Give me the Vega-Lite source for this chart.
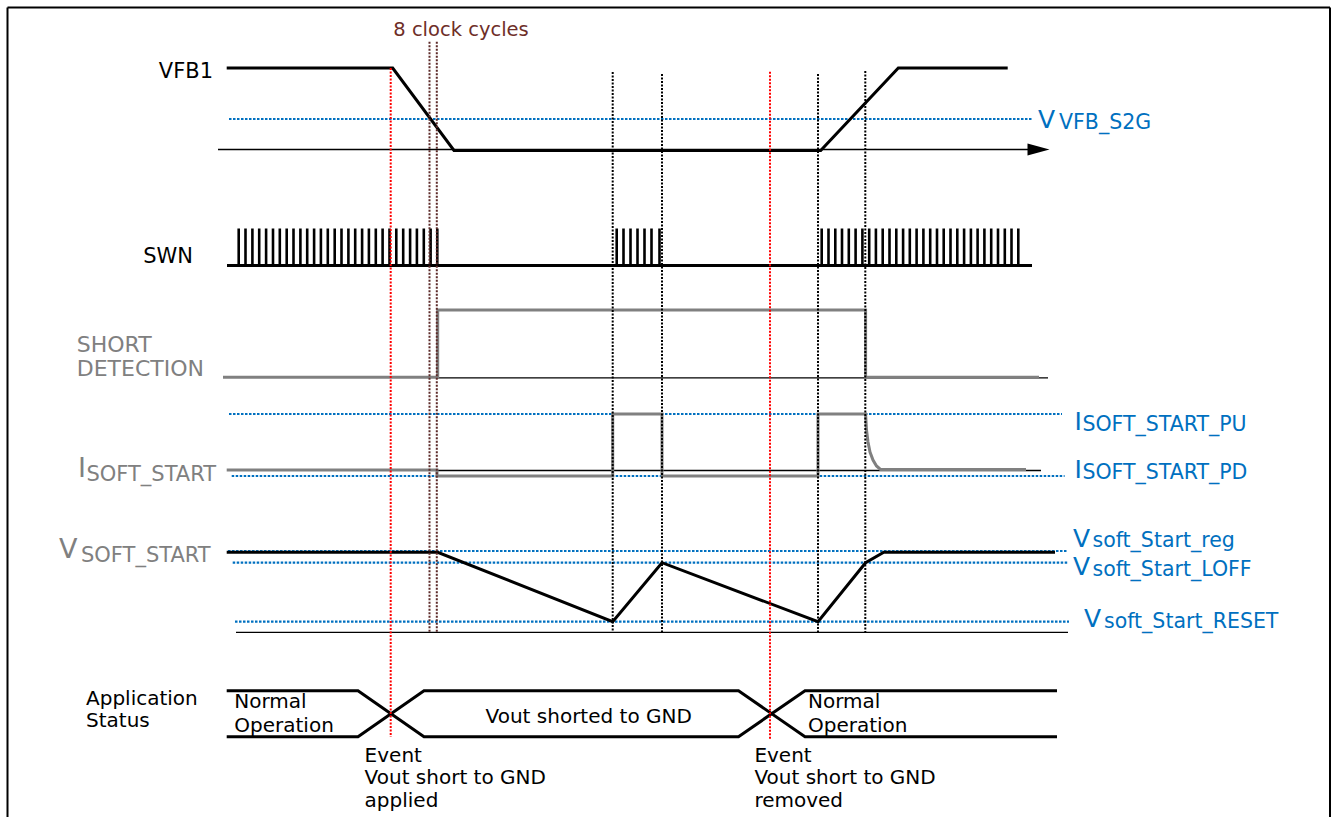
{
  "$schema": "https://vega.github.io/schema/vega-lite/v6.json",
  "width": 1332,
  "height": 818,
  "autosize": {"type": "fit", "contains": "padding"},
  "padding": 0,
  "background": "white",
  "config": {"view": {"stroke": null}},
  "datasets": {
    "frame": [
      {"x": 7.5, "y": 7.5, "y2": 817},
      {"x": 1330, "y": 7.5, "y2": 817}
    ],
    "frameTop": [
      {"x": 7.5, "x2": 1330, "y": 7.5}
    ],
    "thin": [
      {"x": 218, "x2": 1030, "y": 149.5},
      {"x": 437, "x2": 1048, "y": 377.8},
      {"x": 437, "x2": 1041, "y": 470.5},
      {"x": 236, "x2": 1068, "y": 632.3}
    ],
    "blueDot": [
      {"x": 229, "x2": 1031.7, "y": 119},
      {"x": 229, "x2": 1062, "y": 414},
      {"x": 231.7, "x2": 1064.6, "y": 476},
      {"x": 228, "x2": 1068, "y": 551},
      {"x": 232.7, "x2": 1068, "y": 562.7},
      {"x": 235, "x2": 1069, "y": 621.7}
    ],
    "pulses": [
      {"x": 238.7, "y": 265.5, "y2": 228.5}, {"x": 245.5, "y": 265.5, "y2": 228.5}, {"x": 252.4, "y": 265.5, "y2": 228.5}, {"x": 259.2, "y": 265.5, "y2": 228.5}, {"x": 266.1, "y": 265.5, "y2": 228.5},
      {"x": 273.0, "y": 265.5, "y2": 228.5}, {"x": 279.8, "y": 265.5, "y2": 228.5}, {"x": 286.7, "y": 265.5, "y2": 228.5}, {"x": 293.5, "y": 265.5, "y2": 228.5}, {"x": 300.4, "y": 265.5, "y2": 228.5},
      {"x": 307.2, "y": 265.5, "y2": 228.5}, {"x": 314.1, "y": 265.5, "y2": 228.5}, {"x": 320.9, "y": 265.5, "y2": 228.5}, {"x": 327.8, "y": 265.5, "y2": 228.5}, {"x": 334.7, "y": 265.5, "y2": 228.5},
      {"x": 341.5, "y": 265.5, "y2": 228.5}, {"x": 348.4, "y": 265.5, "y2": 228.5}, {"x": 355.2, "y": 265.5, "y2": 228.5}, {"x": 362.1, "y": 265.5, "y2": 228.5}, {"x": 368.9, "y": 265.5, "y2": 228.5},
      {"x": 375.8, "y": 265.5, "y2": 228.5}, {"x": 382.6, "y": 265.5, "y2": 228.5}, {"x": 389.5, "y": 265.5, "y2": 228.5}, {"x": 396.3, "y": 265.5, "y2": 228.5}, {"x": 403.2, "y": 265.5, "y2": 228.5},
      {"x": 410.1, "y": 265.5, "y2": 228.5}, {"x": 416.9, "y": 265.5, "y2": 228.5}, {"x": 423.8, "y": 265.5, "y2": 228.5}, {"x": 430.6, "y": 265.5, "y2": 228.5}, {"x": 437.3, "y": 265.5, "y2": 228.5},
      {"x": 616.7, "y": 265.5, "y2": 228.5}, {"x": 623.5, "y": 265.5, "y2": 228.5}, {"x": 630.5, "y": 265.5, "y2": 228.5}, {"x": 637.5, "y": 265.5, "y2": 228.5}, {"x": 644.5, "y": 265.5, "y2": 228.5},
      {"x": 651.5, "y": 265.5, "y2": 228.5}, {"x": 659.5, "y": 265.5, "y2": 228.5},
      {"x": 821.7, "y": 265.5, "y2": 228.5}, {"x": 828.5, "y": 265.5, "y2": 228.5}, {"x": 835.3, "y": 265.5, "y2": 228.5}, {"x": 842.0, "y": 265.5, "y2": 228.5}, {"x": 848.8, "y": 265.5, "y2": 228.5},
      {"x": 855.6, "y": 265.5, "y2": 228.5}, {"x": 862.4, "y": 265.5, "y2": 228.5}, {"x": 869.2, "y": 265.5, "y2": 228.5}, {"x": 875.9, "y": 265.5, "y2": 228.5}, {"x": 882.7, "y": 265.5, "y2": 228.5},
      {"x": 889.5, "y": 265.5, "y2": 228.5}, {"x": 896.3, "y": 265.5, "y2": 228.5}, {"x": 903.1, "y": 265.5, "y2": 228.5}, {"x": 909.8, "y": 265.5, "y2": 228.5}, {"x": 916.6, "y": 265.5, "y2": 228.5},
      {"x": 923.4, "y": 265.5, "y2": 228.5}, {"x": 930.2, "y": 265.5, "y2": 228.5}, {"x": 937.0, "y": 265.5, "y2": 228.5}, {"x": 943.7, "y": 265.5, "y2": 228.5}, {"x": 950.5, "y": 265.5, "y2": 228.5},
      {"x": 957.3, "y": 265.5, "y2": 228.5}, {"x": 964.1, "y": 265.5, "y2": 228.5}, {"x": 970.9, "y": 265.5, "y2": 228.5}, {"x": 977.6, "y": 265.5, "y2": 228.5}, {"x": 984.4, "y": 265.5, "y2": 228.5},
      {"x": 991.2, "y": 265.5, "y2": 228.5}, {"x": 998.0, "y": 265.5, "y2": 228.5}, {"x": 1004.8, "y": 265.5, "y2": 228.5}, {"x": 1011.5, "y": 265.5, "y2": 228.5}, {"x": 1018.3, "y": 265.5, "y2": 228.5}
    ],
    "black": [
      {"id": "vfb1", "i": 1, "x": 226.7, "y": 68},
      {"id": "vfb1", "i": 2, "x": 392.7, "y": 68},
      {"id": "vfb1", "i": 3, "x": 454, "y": 150.5},
      {"id": "vfb1", "i": 4, "x": 820.7, "y": 150.5},
      {"id": "vfb1", "i": 5, "x": 898.3, "y": 68},
      {"id": "vfb1", "i": 6, "x": 1007.7, "y": 68},
      {"id": "swn", "i": 1, "x": 227, "y": 265.5},
      {"id": "swn", "i": 2, "x": 1032, "y": 265.5},
      {"id": "vss", "i": 1, "x": 226.7, "y": 552.3},
      {"id": "vss", "i": 2, "x": 437.7, "y": 552.3},
      {"id": "vss", "i": 3, "x": 612.7, "y": 621.7},
      {"id": "vss", "i": 4, "x": 662, "y": 562.7},
      {"id": "vss", "i": 5, "x": 818, "y": 621.7},
      {"id": "vss", "i": 6, "x": 865.6, "y": 562.7},
      {"id": "vss", "i": 7, "x": 883.8, "y": 552.3},
      {"id": "vss", "i": 8, "x": 1055, "y": 552.3},
      {"id": "statA", "i": 1, "x": 226.7, "y": 690.7},
      {"id": "statA", "i": 2, "x": 358, "y": 690.7},
      {"id": "statA", "i": 3, "x": 424, "y": 736.7},
      {"id": "statA", "i": 4, "x": 738.5, "y": 736.7},
      {"id": "statA", "i": 5, "x": 805, "y": 690.7},
      {"id": "statA", "i": 6, "x": 1057, "y": 690.7},
      {"id": "statB", "i": 1, "x": 226.7, "y": 736.7},
      {"id": "statB", "i": 2, "x": 358, "y": 736.7},
      {"id": "statB", "i": 3, "x": 424, "y": 690.7},
      {"id": "statB", "i": 4, "x": 738.5, "y": 690.7},
      {"id": "statB", "i": 5, "x": 805, "y": 736.7},
      {"id": "statB", "i": 6, "x": 1057, "y": 736.7}
    ],
    "gray": [
      {"id": "sd", "i": 1, "x": 223, "y": 377.3},
      {"id": "sd", "i": 2, "x": 437.7, "y": 377.3},
      {"id": "sd", "i": 3, "x": 437.7, "y": 310},
      {"id": "sd", "i": 4, "x": 865.6, "y": 310},
      {"id": "sd", "i": 5, "x": 865.6, "y": 377.3},
      {"id": "sd", "i": 6, "x": 1039, "y": 377.3},
      {"id": "iss", "i": 1, "x": 226.7, "y": 470},
      {"id": "iss", "i": 2, "x": 437, "y": 470},
      {"id": "iss", "i": 3, "x": 437, "y": 476},
      {"id": "iss", "i": 4, "x": 612.7, "y": 476},
      {"id": "iss", "i": 5, "x": 612.7, "y": 414},
      {"id": "iss", "i": 6, "x": 662, "y": 414},
      {"id": "iss", "i": 7, "x": 662, "y": 476},
      {"id": "iss", "i": 8, "x": 818, "y": 476},
      {"id": "iss", "i": 9, "x": 818, "y": 414},
      {"id": "iss", "i": 10, "x": 865.6, "y": 414},
      {"id": "iss", "i": 11, "x": 866.5, "y": 430},
      {"id": "iss", "i": 12, "x": 868, "y": 442},
      {"id": "iss", "i": 13, "x": 870, "y": 452},
      {"id": "iss", "i": 14, "x": 873, "y": 460},
      {"id": "iss", "i": 15, "x": 876.5, "y": 466},
      {"id": "iss", "i": 16, "x": 880.5, "y": 469.5},
      {"id": "iss", "i": 17, "x": 1026, "y": 469.5}
    ],
    "redV": [
      {"x": 390.7, "y": 68, "y2": 737},
      {"x": 770, "y": 71.7, "y2": 739}
    ],
    "blackV": [
      {"x": 612.7, "y": 72, "y2": 633},
      {"x": 662, "y": 74, "y2": 633},
      {"x": 818, "y": 74, "y2": 633},
      {"x": 865.3, "y": 71, "y2": 633}
    ],
    "brownV": [
      {"x": 429.5, "y": 41.7, "y2": 633},
      {"x": 436.8, "y": 41.7, "y2": 633}
    ],
    "arrow": [
      {"x": 1038.5, "y": 149.5}
    ],
    "txtRight": [
      {"x": 213, "y": 78, "text": "VFB1"},
      {"x": 193, "y": 263, "text": "SWN"}
    ],
    "txtLeft": [
      {"x": 86, "y": 705, "text": "Application"},
      {"x": 86, "y": 727.3, "text": "Status"},
      {"x": 234.3, "y": 708.3, "text": "Normal"},
      {"x": 234.3, "y": 731.7, "text": "Operation"},
      {"x": 808, "y": 708.3, "text": "Normal"},
      {"x": 808, "y": 731.7, "text": "Operation"},
      {"x": 364.6, "y": 761.7, "text": "Event"},
      {"x": 364.6, "y": 784, "text": "Vout short to GND"},
      {"x": 364.6, "y": 806.5, "text": "applied"},
      {"x": 754.4, "y": 761.7, "text": "Event"},
      {"x": 754.4, "y": 784, "text": "Vout short to GND"},
      {"x": 754.4, "y": 806.5, "text": "removed"}
    ],
    "txtCenter": [
      {"x": 588.7, "y": 723.3, "text": "Vout shorted to GND"}
    ],
    "txtBrown": [
      {"x": 461, "y": 36, "text": "8 clock cycles"}
    ],
    "txtGray": [
      {"x": 76.7, "y": 351.7, "text": "SHORT"},
      {"x": 76.7, "y": 375.7, "text": "DETECTION"}
    ],
    "grayBig": [
      {"x": 78, "y": 476.7, "text": "I"},
      {"x": 59, "y": 557.7, "text": "V"}
    ],
    "graySub": [
      {"x": 86.4, "y": 481, "text": "SOFT_START"},
      {"x": 81, "y": 561.7, "text": "SOFT_START"}
    ],
    "blueBig": [
      {"x": 1038, "y": 128.3, "text": "V"},
      {"x": 1074.5, "y": 430, "text": "I"},
      {"x": 1074.5, "y": 478.3, "text": "I"},
      {"x": 1073, "y": 546.7, "text": "V"},
      {"x": 1073, "y": 575, "text": "V"},
      {"x": 1084, "y": 627.3, "text": "V"}
    ],
    "blueSub": [
      {"x": 1059, "y": 128.5, "text": "VFB_S2G"},
      {"x": 1082.4, "y": 430.7, "text": "SOFT_START_PU"},
      {"x": 1082.4, "y": 479, "text": "SOFT_START_PD"},
      {"x": 1092.5, "y": 547, "text": "soft_Start_reg"},
      {"x": 1092.5, "y": 575.5, "text": "soft_Start_LOFF"},
      {"x": 1104, "y": 627.5, "text": "soft_Start_RESET"}
    ]
  },
  "encoding": {
    "x": {"field": "x", "type": "quantitative", "scale": {"domain": [0, 1332], "nice": false, "zero": false}, "axis": null},
    "y": {"field": "y", "type": "quantitative", "scale": {"domain": [0, 818], "nice": false, "zero": false, "reverse": true}, "axis": null}
  },
  "layer": [
    {"data": {"name": "frame"}, "mark": {"type": "rule", "color": "black", "strokeWidth": 2},
     "encoding": {"y2": {"field": "y2"}}},
    {"data": {"name": "frameTop"}, "mark": {"type": "rule", "color": "black", "strokeWidth": 2},
     "encoding": {"x2": {"field": "x2"}}},
    {"data": {"name": "thin"}, "mark": {"type": "rule", "color": "black", "strokeWidth": 1.3},
     "encoding": {"x2": {"field": "x2"}}},
    {"data": {"name": "blueDot"}, "mark": {"type": "rule", "color": "#0070C0", "strokeWidth": 2.2, "strokeDash": [2.5, 1.5]},
     "encoding": {"x2": {"field": "x2"}}},
    {"data": {"name": "pulses"}, "mark": {"type": "rule", "color": "black", "strokeWidth": 2.6},
     "encoding": {"y2": {"field": "y2"}}},
    {"data": {"name": "gray"}, "mark": {"type": "line", "color": "#808080", "strokeWidth": 3, "strokeJoin": "miter"},
     "encoding": {"detail": {"field": "id"}, "order": {"field": "i", "type": "quantitative"}}},
    {"data": {"name": "black"}, "mark": {"type": "line", "color": "black", "strokeWidth": 3, "strokeJoin": "miter"},
     "encoding": {"detail": {"field": "id"}, "order": {"field": "i", "type": "quantitative"}}},
    {"data": {"name": "arrow"}, "mark": {"type": "point", "shape": "M-1,-0.54L1,0L-1,0.54Z", "size": 484, "filled": true, "color": "black", "opacity": 1}},
    {"data": {"name": "redV"}, "mark": {"type": "rule", "color": "#FF0000", "strokeWidth": 2, "strokeDash": [2, 1.5]},
     "encoding": {"y2": {"field": "y2"}}},
    {"data": {"name": "blackV"}, "mark": {"type": "rule", "color": "black", "strokeWidth": 2, "strokeDash": [2, 1.5]},
     "encoding": {"y2": {"field": "y2"}}},
    {"data": {"name": "brownV"}, "mark": {"type": "rule", "color": "#5C2A28", "strokeWidth": 2, "strokeDash": [2, 1.5]},
     "encoding": {"y2": {"field": "y2"}}},
    {"data": {"name": "txtRight"}, "mark": {"type": "text", "align": "right", "baseline": "alphabetic", "font": "DejaVu Sans", "fontSize": 21, "color": "black"},
     "encoding": {"text": {"field": "text"}}},
    {"data": {"name": "txtLeft"}, "mark": {"type": "text", "align": "left", "baseline": "alphabetic", "font": "DejaVu Sans", "fontSize": 20, "color": "black"},
     "encoding": {"text": {"field": "text"}}},
    {"data": {"name": "txtCenter"}, "mark": {"type": "text", "align": "center", "baseline": "alphabetic", "font": "DejaVu Sans", "fontSize": 20, "color": "black"},
     "encoding": {"text": {"field": "text"}}},
    {"data": {"name": "txtBrown"}, "mark": {"type": "text", "align": "center", "baseline": "alphabetic", "font": "DejaVu Sans", "fontSize": 19.5, "color": "#6E2E28"},
     "encoding": {"text": {"field": "text"}}},
    {"data": {"name": "txtGray"}, "mark": {"type": "text", "align": "left", "baseline": "alphabetic", "font": "DejaVu Sans", "fontSize": 22, "color": "#808080"},
     "encoding": {"text": {"field": "text"}}},
    {"data": {"name": "grayBig"}, "mark": {"type": "text", "align": "left", "baseline": "alphabetic", "font": "DejaVu Sans", "fontSize": 27, "color": "#808080"},
     "encoding": {"text": {"field": "text"}}},
    {"data": {"name": "graySub"}, "mark": {"type": "text", "align": "left", "baseline": "alphabetic", "font": "DejaVu Sans", "fontSize": 21, "color": "#808080"},
     "encoding": {"text": {"field": "text"}}},
    {"data": {"name": "blueBig"}, "mark": {"type": "text", "align": "left", "baseline": "alphabetic", "font": "DejaVu Sans", "fontSize": 25, "color": "#0070C0"},
     "encoding": {"text": {"field": "text"}}},
    {"data": {"name": "blueSub"}, "mark": {"type": "text", "align": "left", "baseline": "alphabetic", "font": "DejaVu Sans", "fontSize": 20.5, "color": "#0070C0"},
     "encoding": {"text": {"field": "text"}}}
  ]
}
